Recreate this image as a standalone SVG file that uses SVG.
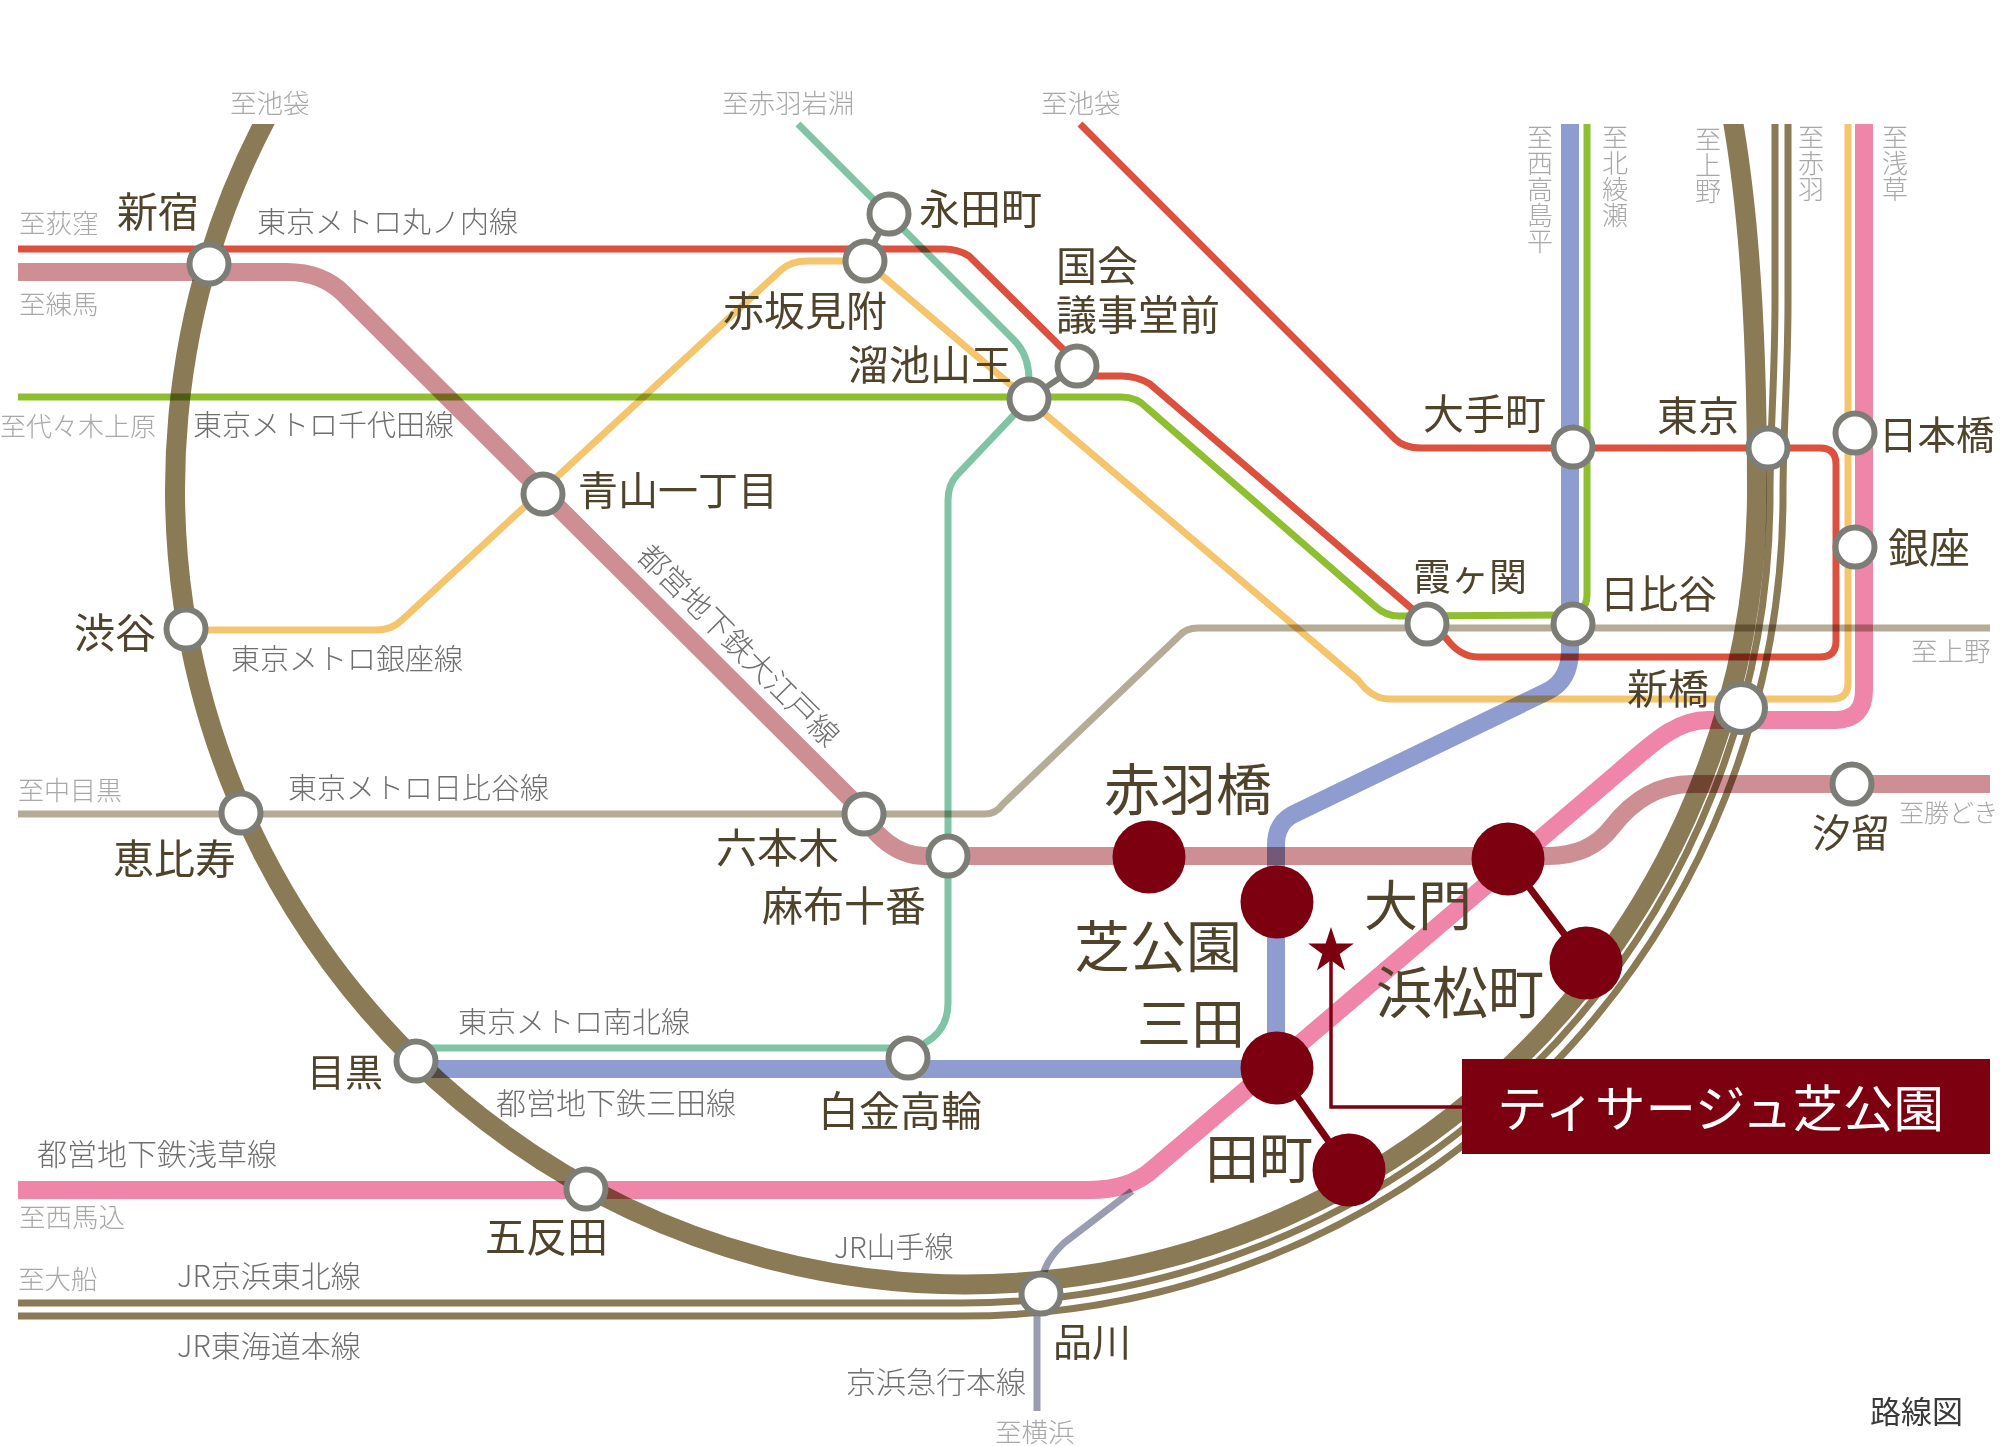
<svg xmlns="http://www.w3.org/2000/svg" width="2000" height="1446" viewBox="0 0 2000 1446">
<style>
text{font-family:"Liberation Serif","Noto Sans CJK JP",serif}
.l{fill:none;mix-blend-mode:multiply}
.thin{stroke-width:7}
.thick{stroke-width:18}
.st{fill:#fff;stroke:#7b7d76;stroke-width:6}
.hl{fill:#7d0011}
.link{stroke:#7d0011;stroke-width:7;fill:none}
.glink{stroke:#7b7d76;stroke-width:6;fill:none}
.n{fill:#4f432b;font-size:41px}
.b{fill:#4f432b;font-size:54px}
.ln{font-family:"Noto Sans CJK JP",sans-serif;fill:#6f6f6f;font-size:29px;font-weight:300}
.to{font-family:"Noto Sans CJK JP",sans-serif;fill:#a8a8a8;font-size:26.5px;font-weight:300}
.v{writing-mode:vertical-rl}
</style>
<defs><clipPath id="top"><rect x="0" y="124" width="2000" height="1322"/></clipPath></defs>
<rect width="2000" height="1446" fill="#fff"/>
<g id="connectors">
<path class="l" clip-path="url(#top)" stroke="#8a7a55" stroke-width="20" d="M282 90A791 795 0 1 0 1757 484C1757 350 1750 200 1727 90"/>
<path class="l" stroke="#8a7a55" stroke-width="7" d="M18 1303H962A808 808 0 0 0 1770 495C1770 430 1775 380 1775 300V124"/>
<path class="l" stroke="#8a7a55" stroke-width="7" d="M18 1316H962A821 821 0 0 0 1783 495C1783 430 1788 380 1788 300V124"/>
<path class="l thick" stroke="#cd8f94" d="M18 272H287Q322 272 344 294L855 803Q885 856 925 856H1548Q1590 856 1612 827Q1645 784 1692 784H1990"/>
<path class="l thick" stroke="#8f9ccf" d="M1570 124V650Q1570 680 1548 691L1292 815Q1276 824 1276 845V1069H416"/>
<path class="l thick" stroke="#ef85a8" d="M18 1190H1089Q1130 1190 1153 1169L1620 771C1652 744 1675 720 1708 720H1835Q1864 720 1864 690V124"/>
<path class="l thin" stroke="#dd503d" d="M1080 124L1395 439Q1404 448 1421 448H1820Q1836 448 1836 464V641Q1836 657 1820 657H1478Q1460 657 1446 638L1150 384Q1137 376 1121 376H1077L1064 350L969 256Q958 249 944 249H18"/>
<path class="l thin" stroke="#f4c56d" d="M186 630H376Q392 630 402 620L781 270Q791 261 807 261H865L1358 680Q1372 699 1389 699H1832Q1848 699 1848 683V124"/>
<path class="l thin" stroke="#8fbe30" d="M18 397H1121Q1137 397 1147 408L1376 607Q1386 616 1399 616L1561 615Q1587 615 1587 595V124"/>
<path class="l thin" stroke="#b5ac98" d="M18 814H985Q996 814 1003 804L1179 636Q1186 628 1198 628H1990"/>
<path class="l thin" stroke="#7fc4a5" d="M798 124L1014 340Q1029 355 1029 380V399L957 475Q948 485 948 500V1003Q948 1030 925 1043L908 1058M908 1048H416"/>
<path class="l thin" stroke="#9a9db2" d="M1132 1191L1064 1243Q1050 1256 1045 1269L1037 1294V1411"/>
<path class="link" d="M1277 1068L1349 1170M1508 859L1586 963"/>
<path class="glink" d="M889 214L865 260M1077 366L1029 399"/>
<path stroke="#7d0011" stroke-width="3.5" fill="none" d="M1331 950V1107H1462"/>
<polygon class="hl" points="1331,927 1336.4,943.6 1353.9,943.6 1339.7,953.9 1345.1,970.5 1331,960.2 1316.9,970.5 1322.3,953.9 1308.1,943.6 1325.6,943.6"/>
</g>
<g id="line-labels">
<text class="ln" x="257" y="233">東京メトロ丸ノ内線</text>
<text class="ln" x="193" y="436">東京メトロ千代田線</text>
<text class="ln" x="231" y="670">東京メトロ銀座線</text>
<text class="ln" x="288" y="799">東京メトロ日比谷線</text>
<text class="ln" x="458" y="1033">東京メトロ南北線</text>
<text class="ln" x="496" y="1114" style="font-size:30px">都営地下鉄三田線</text>
<text class="ln" x="37" y="1165" style="font-size:30px">都営地下鉄浅草線</text>
<text class="ln" x="177" y="1287" style="font-size:30px">JR京浜東北線</text>
<text class="ln" x="177" y="1357" style="font-size:30px">JR東海道本線</text>
<text class="ln" x="834" y="1258">JR山手線</text>
<text class="ln" x="846" y="1393" style="font-size:30px">京浜急行本線</text>
<text class="ln" transform="translate(738 646) rotate(45)" text-anchor="middle" y="10" style="font-size:30px">都営地下鉄大江戸線</text>
<text class="to" x="230" y="113">至池袋</text>
<text class="to" x="722" y="113">至赤羽岩淵</text>
<text class="to" x="1041" y="113">至池袋</text>
<text class="to" x="19" y="233">至荻窪</text>
<text class="to" x="19" y="314">至練馬</text>
<text class="to" x="0" y="436" style="font-size:26px">至代々木上原</text>
<text class="to" x="18" y="800" style="font-size:26px">至中目黒</text>
<text class="to" x="19" y="1227">至西馬込</text>
<text class="to" x="18" y="1289">至大船</text>
<text class="to" x="995" y="1442">至横浜</text>
<text class="to" x="1911" y="661">至上野</text>
<text class="to" x="1899" y="822" style="font-size:25px">至勝どき</text>
<text class="to v" x="1540" y="124" style="font-size:26px">至西高島平</text>
<text class="to v" x="1615" y="124" style="font-size:26px">至北綾瀬</text>
<text class="to v" x="1708" y="126" style="font-size:26px">至上野</text>
<text class="to v" x="1811" y="124" style="font-size:26px">至赤羽</text>
<text class="to v" x="1895" y="124" style="font-size:26px">至浅草</text>
</g>
<g id="shinjuku"><circle class="st" cx="209" cy="264" r="19.5"/><text class="n" x="117" y="227">新宿</text></g>
<g id="shibuya"><circle class="st" cx="186" cy="629" r="19.5"/><text class="n" x="74" y="648">渋谷</text></g>
<g id="ebisu"><circle class="st" cx="241" cy="813" r="19.5"/><text class="n" x="113" y="874">恵比寿</text></g>
<g id="meguro"><circle class="st" cx="416" cy="1061" r="19.5"/><text class="n" x="307" y="1086" style="font-size:38px">目黒</text></g>
<g id="gotanda"><circle class="st" cx="586" cy="1189" r="19.5"/><text class="n" x="485" y="1252">五反田</text></g>
<g id="shinagawa"><circle class="st" cx="1041" cy="1294" r="19.5"/><text class="n" x="1053" y="1356" style="font-size:39px">品川</text></g>
<g id="aoyama"><circle class="st" cx="543" cy="494" r="19.5"/><text class="n" x="578" y="505" style="font-size:40px">青山一丁目</text></g>
<g id="akasaka"><circle class="st" cx="865" cy="261" r="19.5"/><text class="n" x="723" y="326">赤坂見附</text></g>
<g id="nagatacho"><circle class="st" cx="889" cy="214" r="19.5"/><text class="n" x="919" y="224">永田町</text></g>
<g id="tameike"><circle class="st" cx="1029" cy="399" r="19.5"/><text class="n" x="848" y="380">溜池山王</text></g>
<g id="kokkai"><circle class="st" cx="1077" cy="366" r="19.5"/><text class="n" x="1056" y="281">国会</text><text class="n" x="1056" y="330">議事堂前</text></g>
<g id="otemachi"><circle class="st" cx="1573" cy="447" r="19.5"/><text class="n" x="1423" y="429">大手町</text></g>
<g id="tokyo"><circle class="st" cx="1768" cy="448" r="19.5"/><text class="n" x="1657" y="431">東京</text></g>
<g id="nihonbashi"><circle class="st" cx="1855" cy="433" r="19.5"/><text class="n" x="1879" y="449" style="font-size:38.5px">日本橋</text></g>
<g id="ginza"><circle class="st" cx="1855" cy="547" r="19.5"/><text class="n" x="1888" y="563">銀座</text></g>
<g id="kasumigaseki"><circle class="st" cx="1427" cy="624" r="19.5"/><text class="n" x="1413" y="590" style="font-size:38px">霞ヶ関</text></g>
<g id="hibiya"><circle class="st" cx="1573" cy="624" r="19.5"/><text class="n" x="1600" y="608" style="font-size:39px">日比谷</text></g>
<g id="shimbashi"><circle class="st" cx="1741" cy="708" r="24"/><text class="n" x="1627" y="704">新橋</text></g>
<g id="shiodome"><circle class="st" cx="1852" cy="784" r="19.5"/><text class="n" x="1812" y="847" style="font-size:39px">汐留</text></g>
<g id="roppongi"><circle class="st" cx="864" cy="814" r="19.5"/><text class="n" x="716" y="863">六本木</text></g>
<g id="azabu"><circle class="st" cx="948" cy="856" r="19.5"/><text class="n" x="762" y="921">麻布十番</text></g>
<g id="shirokane"><circle class="st" cx="908" cy="1058" r="19.5"/><text class="n" x="818" y="1126">白金高輪</text></g>
<g id="akabanebashi"><circle class="hl" cx="1149" cy="857" r="36.5"/><text class="b" x="1104" y="810" style="font-size:56px">赤羽橋</text></g>
<g id="shibakoen"><circle class="hl" cx="1277" cy="902" r="36.5"/><text class="b" x="1074" y="967" style="font-size:56px">芝公園</text></g>
<g id="daimon"><circle class="hl" cx="1508" cy="859" r="36.5"/><text class="b" x="1364" y="926">大門</text></g>
<g id="hamamatsucho"><circle class="hl" cx="1586" cy="963" r="36.5"/><text class="b" x="1376" y="1013" style="font-size:56px">浜松町</text></g>
<g id="mita"><circle class="hl" cx="1277" cy="1068" r="36.5"/><text class="b" x="1137" y="1044">三田</text></g>
<g id="tamachi"><circle class="hl" cx="1349" cy="1170" r="36.5"/><text class="b" x="1205" y="1179">田町</text></g>
<g id="property"><rect class="hl" x="1462" y="1059" width="528" height="95"/><text x="1497" y="1127" fill="#fff" font-size="50.5">ティサージュ芝公園</text></g>
<text x="1870" y="1423" fill="#3a3a3a" font-size="31">路線図</text>
</svg>
